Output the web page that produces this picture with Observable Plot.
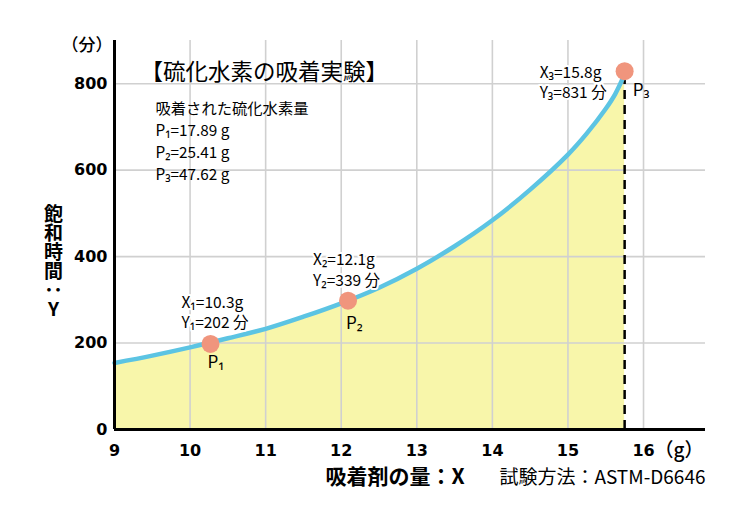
<!DOCTYPE html>
<html>
<head>
<meta charset="utf-8">
<script src="https://cdn.jsdelivr.net/npm/d3@7"></script>
<script src="https://cdn.jsdelivr.net/npm/@observablehq/plot@0.6"></script>
<style>
  html, body { margin: 0; padding: 0; background: white; }
  #chart { width: 748px; height: 521px; }
</style>
</head>
<body>
<div id="chart"></div>
<script>
// ---- data ----
const xTicks = [9, 10, 11, 12, 13, 14, 15, 16];
const yTicks = [0, 200, 400, 600, 800];
const curveX = [9, 9.5, 10, 10.5, 11, 11.5, 12, 12.5, 13, 13.5, 14, 14.5, 15, 15.25, 15.5, 15.625, 15.75];
const curveY = [154, 171, 190, 211, 233, 261, 292, 328, 372, 424, 484, 555, 636, 685, 742, 776, 822];
const pointX = [10.27, 12.09, 15.75];
const pointY = [198, 298, 829];
const pointNames = ["P₁", "P₂", "P₃"];
const labelXs = ["X₁=10.3g", "X₂=12.1g", "X₃=15.8g"];
const labelYs = ["Y₁=202 分", "Y₂=339 分", "Y₃=831 分"];
const adsorbedTitle = "吸着された硫化水素量";
const adsorbed = ["P₁=17.89 g", "P₂=25.41 g", "P₃=47.62 g"];
const title = "【硫化水素の吸着実験】";
const xUnit = "（g）";
const yUnit = "（分）";
const xLabel = "吸着剤の量：X";
const yLabel = "飽和時間：Y";
const method = "試験方法：ASTM-D6646";
const xMax = 16.82, yMax = 900;

const curve = curveX.map((x, i) => ({x, y: curveY[i]}));
const points = pointX.map((x, i) => ({x, y: pointY[i], name: pointNames[i], lx: labelXs[i], ly: labelYs[i]}));

// label layout (pixel offsets relative to each point)
const labelLayout = [
  {dx: -29, dyX: -41, dyY: -21, pdx: -3, pdy: 19},
  {dx: -35, dyX: -41, dyY: -20, pdx: -2, pdy: 23},
  {dx: -85, dyX: 2, dyY: 22, pdx: 8, pdy: 19}
];

const CJK = "'Noto Sans CJK JP', 'Noto Sans', sans-serif";
const NUM = "'DejaVu Sans', 'Noto Sans CJK JP', sans-serif";
const gridColor = "#d0d0d0";

const labelMarks = points.flatMap((p, i) => {
  const L = labelLayout[i];
  const common = {x: "x", y: "y", textAnchor: "start", fontSize: 15.5, fontFamily: CJK, fill: "black"};
  return [
    Plot.text([p], {...common, text: "lx", dx: L.dx, dy: L.dyX, stroke: "white", strokeWidth: 4}),
    Plot.text([p], {...common, text: "ly", dx: L.dx, dy: L.dyY, stroke: "white", strokeWidth: 4}),
    Plot.text([p], {...common, text: "name", dx: L.pdx, dy: L.pdy, fontSize: 17})
  ];
});

const chart = Plot.plot({
  width: 748,
  height: 521,
  marginLeft: 114,
  marginRight: 43,
  marginTop: 40,
  marginBottom: 92,
  x: {domain: [9, xMax], axis: null},
  y: {domain: [0, yMax], axis: null},
  style: {fontFamily: CJK, background: "white", color: "black", overflow: "visible"},
  marks: [
    Plot.areaY(curve, {x: "x", y: "y", fill: "#f8f6aa", curve: "catmull-rom"}),
    Plot.gridY(yTicks.slice(1), {stroke: gridColor, strokeOpacity: 1, strokeWidth: 1.6}),
    Plot.gridX(xTicks.slice(1), {stroke: gridColor, strokeOpacity: 1, strokeWidth: 1.6}),
    Plot.ruleX([pointX[2]], {y1: 0, y2: 815, stroke: "black", strokeWidth: 2.5, strokeDasharray: "9,6"}),
    Plot.line(curve, {x: "x", y: "y", stroke: "#5cc4e3", strokeWidth: 4.5, curve: "catmull-rom"}),
    Plot.dot(points, {x: "x", y: "y", r: 9, fill: "#f0957d", stroke: "none"}),
    // axes lines
    Plot.ruleX([9], {y1: 0, y2: yMax, stroke: "black", strokeWidth: 3}),
    Plot.ruleY([0], {x1: 9, x2: xMax, stroke: "black", strokeWidth: 3}),
    // tick labels
    Plot.axisX(xTicks, {label: null, tickSize: 0, tickPadding: 15, fontSize: 16, fontFamily: NUM, fontWeight: "bold"}),
    Plot.axisY(yTicks, {label: null, tickSize: 0, tickPadding: 7, fontSize: 16, fontFamily: NUM, fontWeight: "bold"}),
    // units
    Plot.text([yUnit], {x: 9, y: yMax, text: d => d, dx: -2, dy: 5, textAnchor: "end", fontSize: 17, fontFamily: CJK, fontWeight: 500}),
    Plot.text([xUnit], {x: 16, y: 0, text: d => d, dx: 11, dy: 21, textAnchor: "start", fontSize: 19, fontFamily: CJK, fontWeight: 500}),
    // axis titles
    Plot.text([yLabel], {x: 9, y: 404, text: d => d, dx: -61, fontSize: 19, fontWeight: 700, fontFamily: CJK}),
    Plot.text([xLabel], {x: 9, y: 0, text: d => d, dx: 211, dy: 48, textAnchor: "start", fontSize: 21, fontWeight: 700, fontFamily: CJK}),
    Plot.text([method], {x: xMax, y: 0, text: d => d, dy: 48, textAnchor: "end", fontSize: 19, fontFamily: CJK}),
    // title block
    Plot.text([title], {frameAnchor: "top-left", text: d => d, dx: 26, dy: 32, lineAnchor: "middle", textAnchor: "start", fontSize: 22.5, fontFamily: CJK}),
    Plot.text([[adsorbedTitle, ...adsorbed].join("\n")], {frameAnchor: "top-left", text: d => d, dx: 41, dy: 99.5, lineAnchor: "middle", textAnchor: "start", fontSize: 15.3, lineHeight: 1.43, fontFamily: CJK}),
    ...labelMarks
  ]
});

// vertical writing for the y-axis title
d3.select(chart).selectAll("text")
  .filter(function() { return this.textContent === yLabel; })
  .attr("dy", null)
  .attr("writing-mode", "vertical-rl")
  .style("writing-mode", "vertical-rl")
  .style("text-orientation", "upright");

document.getElementById("chart").appendChild(chart);
</script>
</body>
</html>
